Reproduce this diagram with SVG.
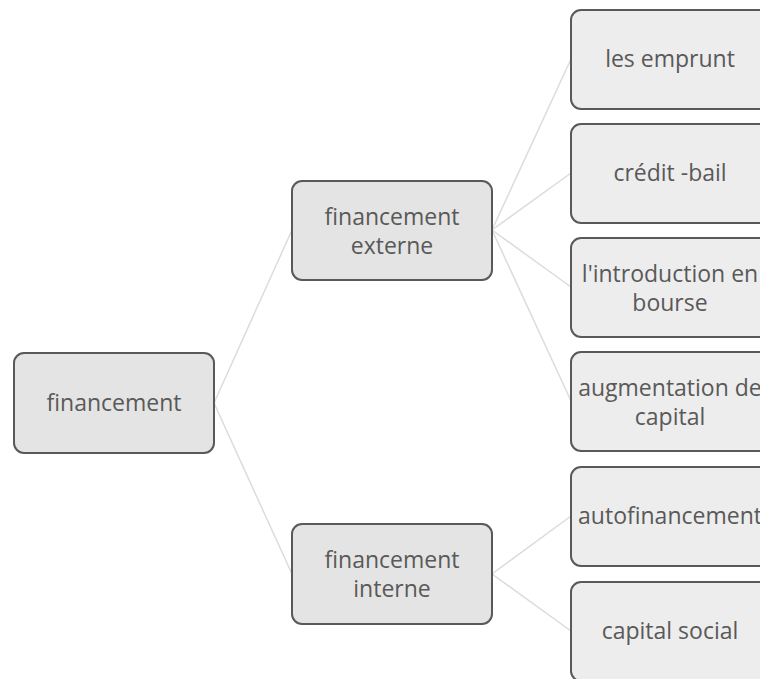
<svg xmlns="http://www.w3.org/2000/svg" width="760" height="679" viewBox="0 0 760 679">
  <style>
    .box { stroke: #595959; stroke-width: 2; }
    .mid { fill: #e4e4e4; }
    .leaf { fill: #ededed; }
    .lbl { font-family: "Open Sans", "Noto Sans", sans-serif; font-size: 23px; fill: #595959; text-anchor: middle; }
    .link { stroke: #dcdcdc; stroke-width: 1.5; fill: none; }
  </style>
  <rect width="760" height="679" fill="#ffffff"/>

  <g id="connectors">
    <line class="link" x1="214" y1="403" x2="292" y2="230"/>
    <line class="link" x1="214" y1="403" x2="292" y2="574"/>
    <line class="link" x1="492" y1="230" x2="571" y2="59"/>
    <line class="link" x1="492" y1="230" x2="571" y2="173"/>
    <line class="link" x1="492" y1="230" x2="571" y2="287"/>
    <line class="link" x1="492" y1="230" x2="571" y2="401"/>
    <line class="link" x1="492" y1="574" x2="571" y2="516"/>
    <line class="link" x1="492" y1="574" x2="571" y2="631"/>
  </g>

  <g id="financement">
    <rect class="box mid" x="14" y="353" width="200" height="100" rx="10"/>
    <text class="lbl" x="114" y="411">financement</text>
  </g>

  <g id="financement-externe">
    <rect class="box mid" x="292" y="181" width="200" height="99" rx="10"/>
    <text class="lbl" x="392" y="225">financement</text>
    <text class="lbl" x="392" y="254">externe</text>
  </g>

  <g id="financement-interne">
    <rect class="box mid" x="292" y="524" width="200" height="100" rx="10"/>
    <text class="lbl" x="392" y="568">financement</text>
    <text class="lbl" x="392" y="597">interne</text>
  </g>

  <g id="les-emprunt">
    <rect class="box leaf" x="571" y="10" width="200" height="99" rx="10"/>
    <text class="lbl" x="670" y="67">les emprunt</text>
  </g>

  <g id="credit-bail">
    <rect class="box leaf" x="571" y="124" width="200" height="99" rx="10"/>
    <text class="lbl" x="670" y="181">crédit -bail</text>
  </g>

  <g id="introduction-bourse">
    <rect class="box leaf" x="571" y="238" width="200" height="99" rx="10"/>
    <text class="lbl" x="670" y="282">l'introduction en</text>
    <text class="lbl" x="670" y="311">bourse</text>
  </g>

  <g id="augmentation-capital">
    <rect class="box leaf" x="571" y="352" width="200" height="99" rx="10"/>
    <text class="lbl" x="670" y="396">augmentation de</text>
    <text class="lbl" x="670" y="425">capital</text>
  </g>

  <g id="autofinancement">
    <rect class="box leaf" x="571" y="467" width="200" height="99" rx="10"/>
    <text class="lbl" x="670" y="524">autofinancement</text>
  </g>

  <g id="capital-social">
    <rect class="box leaf" x="571" y="582" width="200" height="99" rx="10"/>
    <text class="lbl" x="670" y="639">capital social</text>
  </g>
</svg>
